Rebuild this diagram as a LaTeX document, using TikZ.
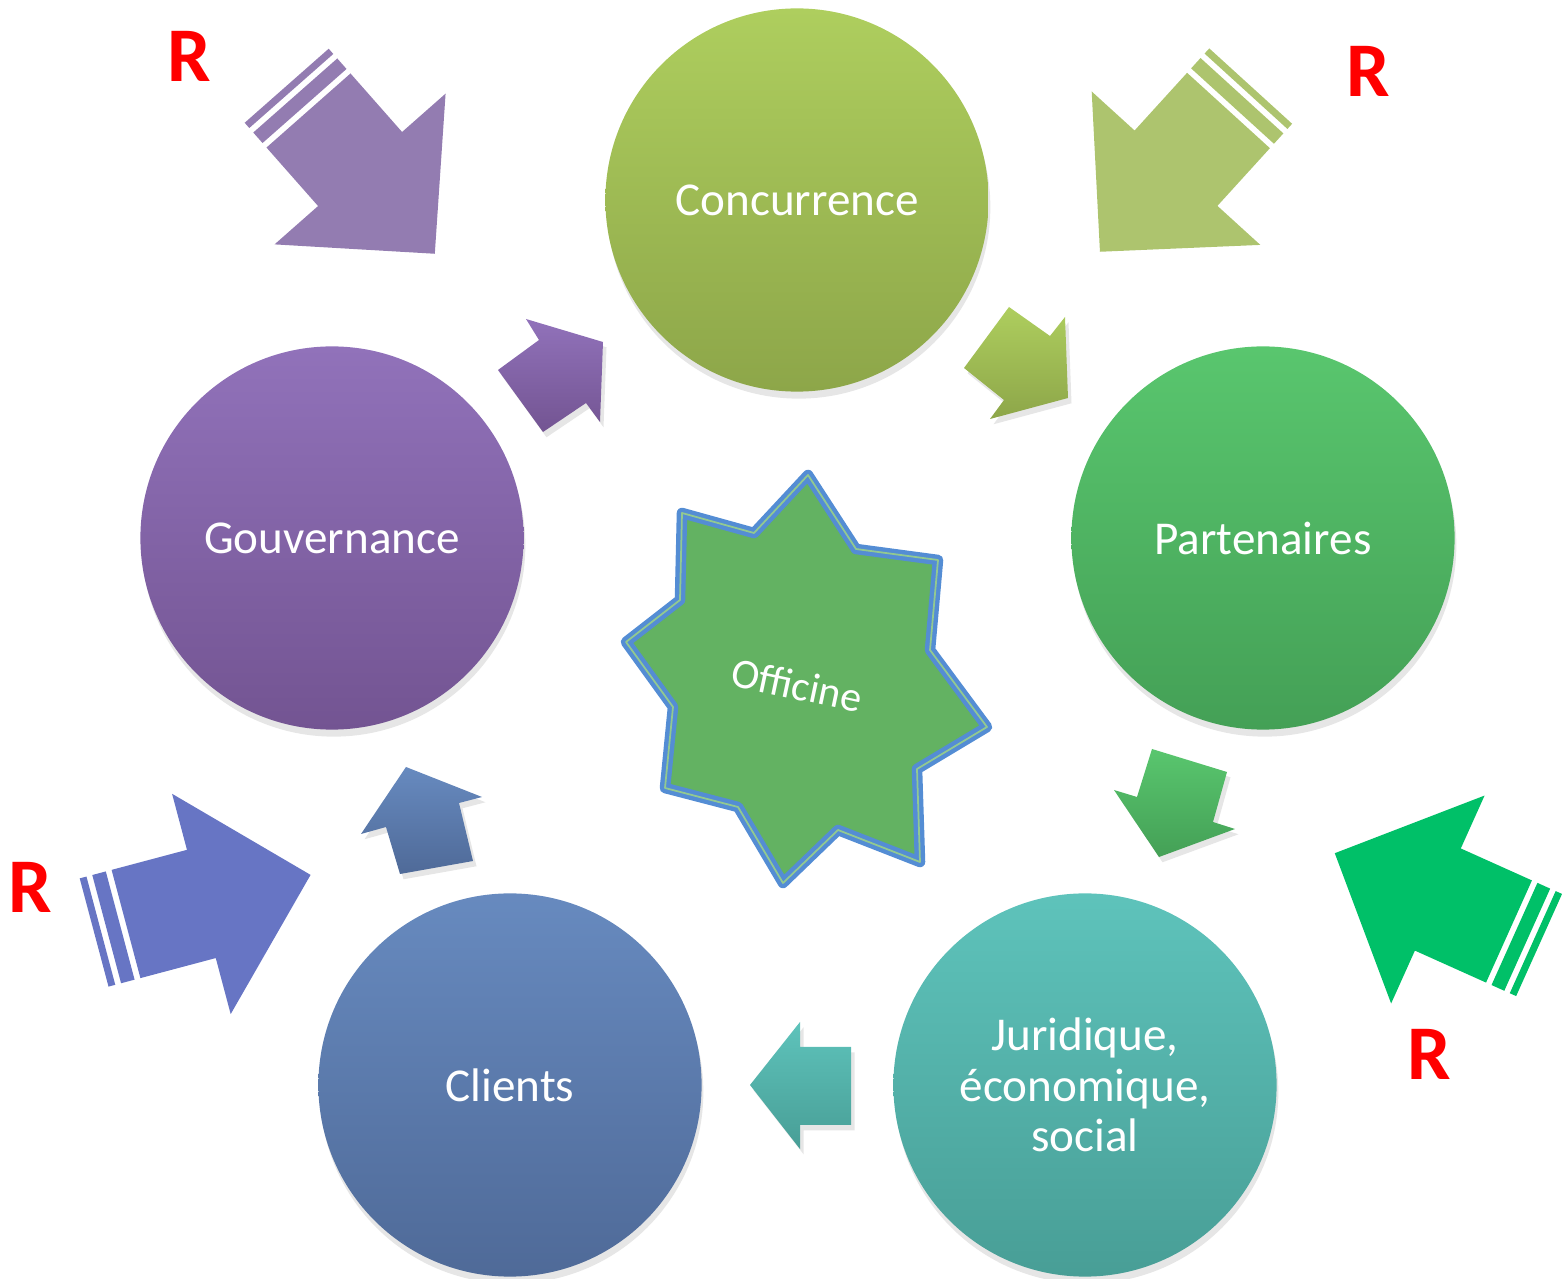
\documentclass[tikz,border=0pt]{standalone}
\usepackage{fontspec}
\setmainfont{Carlito}
\usetikzlibrary{shadows}
\definecolor{concTop}{RGB}{174, 206, 94}
\definecolor{concBot}{RGB}{141, 166, 73}
\definecolor{partTop}{RGB}{89, 198, 110}
\definecolor{partBot}{RGB}{68, 160, 86}
\definecolor{jurTop}{RGB}{94, 195, 187}
\definecolor{jurBot}{RGB}{72, 158, 150}
\definecolor{cliTop}{RGB}{103, 138, 191}
\definecolor{cliBot}{RGB}{79, 106, 152}
\definecolor{gouvTop}{RGB}{145, 114, 186}
\definecolor{gouvBot}{RGB}{115, 84, 146}
\definecolor{riskPurple}{RGB}{147, 124, 177}
\definecolor{riskOlive}{RGB}{173, 196, 110}
\definecolor{riskBlue}{RGB}{103, 117, 196}
\definecolor{riskGreen}{RGB}{0, 192, 104}
\definecolor{starFill}{RGB}{99, 178, 98}
\definecolor{starLine}{RGB}{84, 141, 212}

\begin{document}
\begin{tikzpicture}[
    x=0.01cm, y=-0.01cm,
    bubble/.style={
        circle, minimum size=3.83cm, inner sep=0pt, text=white, align=center,
        font=\fontsize{13.4}{14.3}\selectfont,
        drop shadow={shadow xshift=0.5pt, shadow yshift=-2pt, opacity=0.2}
    },
    smallarrow/.style={
        drop shadow={shadow xshift=1pt, shadow yshift=-1.5pt, opacity=0.2}
    },
    rmark/.style={text=red, font=\bfseries\fontsize{22}{26}\selectfont},
    stripedarrow/.pic={
        \fill[#1] (0,-56) -- (78,-56) -- (78,-114) -- (191,0) -- (78,114) -- (78,56) -- (0,56) -- cycle;
        \fill[#1] (-20,-56) rectangle (-6,56);
        \fill[#1] (-33,-56) rectangle (-26,56);
    }
]
\useasboundingbox (0,0) rectangle (1562,1279);

% Draw the five circles
\node[bubble, top color=concTop, bottom color=concBot] (concurrence) at (797,200) {Concurrence};
\node[bubble, top color=partTop, bottom color=partBot] (partenaires) at (1263,538) {Partenaires};
\node[bubble, top color=jurTop, bottom color=jurBot] (juridique) at (1085,1085) {Juridique,\\économique,\\social};
\node[bubble, top color=cliTop, bottom color=cliBot] (clients) at (510,1085) {Clients};
\node[bubble, top color=gouvTop, bottom color=gouvBot] (gouvernance) at (332,538) {Gouvernance};

% Small arrows between the circles
\path[smallarrow, top color=gouvTop, bottom color=gouvBot]
    (539,340) -- (526,319) -- (603,342) -- (600,422) -- (586,403) -- (543,432) -- (498,370) -- cycle;
\path[smallarrow, top color=concTop, bottom color=concBot]
    (1009,307) -- (1050,336) -- (1065,317) -- (1068,398) -- (990,419) -- (1004,400) -- (964,368) -- cycle;
\path[smallarrow, top color=partTop, bottom color=partBot]
    (1152,749) -- (1227,772) -- (1213,822) -- (1235,829) -- (1159,857) -- (1114,790) -- (1137,797) -- cycle;
\path[smallarrow, top color=jurTop, bottom color=jurBot]
    (800,1022) -- (800,1047) -- (851,1047) -- (851,1125) -- (800,1125) -- (800,1149) -- (750,1085) -- cycle;
\path[smallarrow, top color=cliTop, bottom color=cliBot]
    (406,767) -- (482,797) -- (459,803) -- (473,861) -- (400,874) -- (386,827) -- (361,834) -- cycle;

% Striped arrows from outside
\pic[rotate=-48.6] (riskgouv) at (308.5,110.5) {stripedarrow=riskPurple};
\pic[rotate=-132.3] (riskconc) at (1228.5,110.5) {stripedarrow=riskOlive};
\pic[rotate=14.9] (riskcli) at (126,924) {stripedarrow=riskBlue};
\pic[rotate=155.8] (riskpart) at (1509,931.5) {stripedarrow=riskGreen};

% R labels
\foreach \i/\x/\y in {1/189/56, 2/1368/71, 3/30/887, 4/1429/1054} {
    \node[rmark] (r\i) at (\x,\y) {R};
}

% Star in the middle
\draw[fill=starFill, draw=starLine, line width=3pt, line join=round]
    (808,475) -- (856,549) -- (938,560) -- (930,650) -- (987,727) -- (917,769) -- (920,862) -- (838,830)
    -- (783,883) -- (738,807) -- (665,788) -- (673,707) -- (626,642) -- (680,600) -- (682,513) -- (754,533) -- cycle;
\draw[starFill!70!white, line width=0.5pt, line join=round]
    (808,475) -- (856,549) -- (938,560) -- (930,650) -- (987,727) -- (917,769) -- (920,862) -- (838,830)
    -- (783,883) -- (738,807) -- (665,788) -- (673,707) -- (626,642) -- (680,600) -- (682,513) -- (754,533) -- cycle;
\node[text=white, font=\fontsize{12}{14}\selectfont, rotate=-12] (officine) at (797,685) {Officine};

\end{tikzpicture}
\end{document}
